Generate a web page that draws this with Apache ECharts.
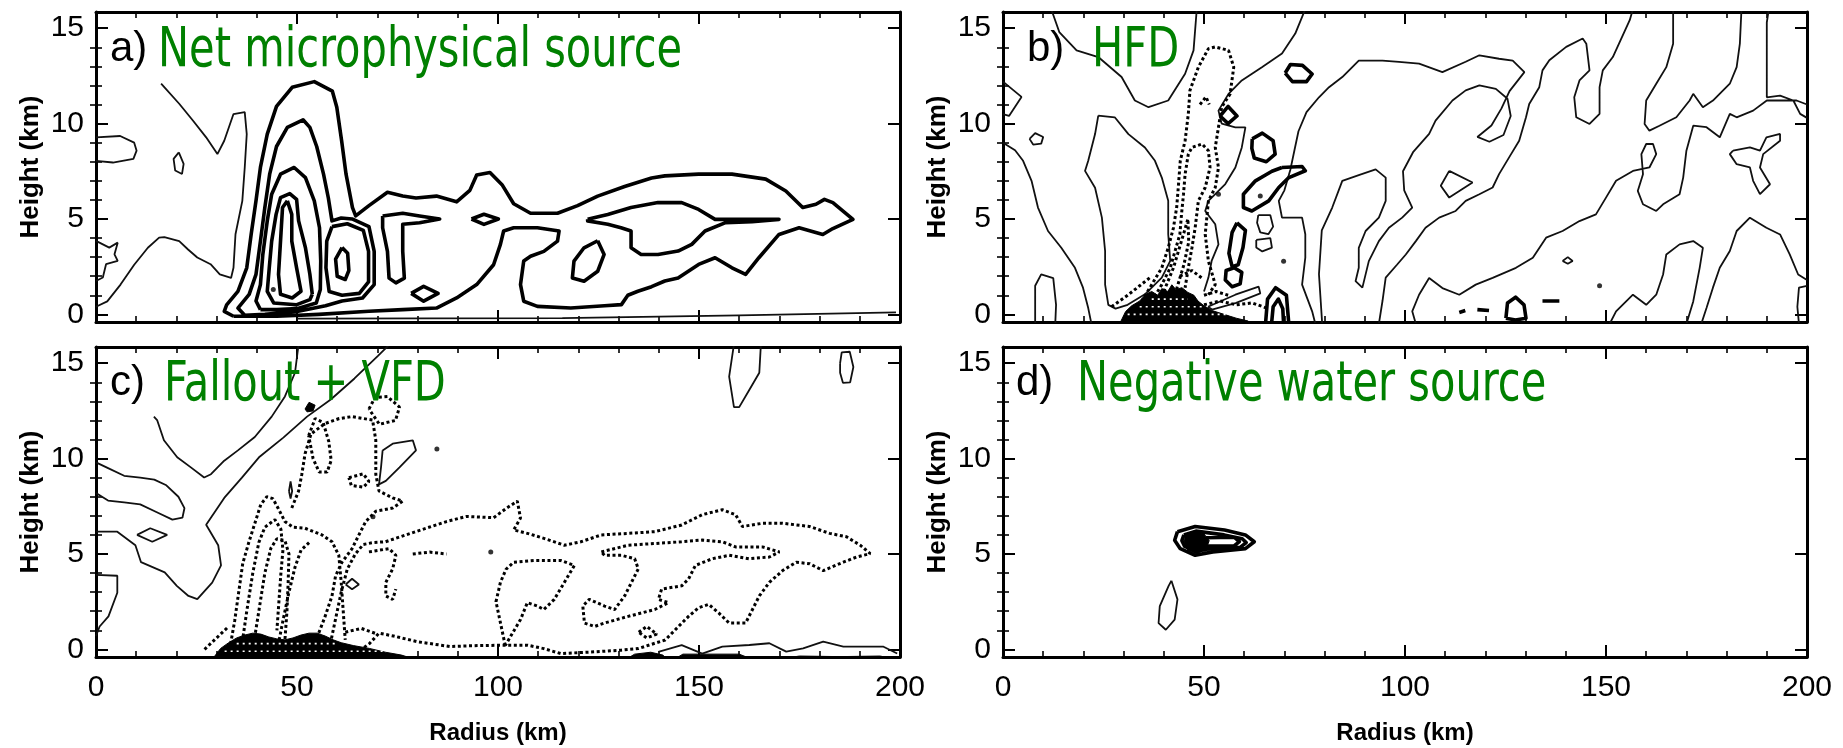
<!DOCTYPE html>
<html><head><meta charset="utf-8">
<script src="https://cdn.jsdelivr.net/npm/echarts@6/dist/echarts.min.js"></script>
<style>html,body{margin:0;padding:0;background:#fff}#c{width:1843px;height:748px}</style>
</head><body><div id="c"></div>
<script>
// ---------- axis values ----------
const xTicks = [0, 50, 100, 150, 200];
const yMajor = [0, 5, 10, 15];
const yMinor = [1,2,3,4,6,7,8,9,11,12,13,14];
const panelLetters = ['a)', 'b)', 'c)', 'd)'];
const panelTitles = ['Net microphysical source', 'HFD', 'Fallout + VFD', 'Negative water source'];

// ---------- panel a : Net microphysical source ----------
const aThick = [
 [[34.2,-0.1],[31.9,0.16],[32.5,0.5],[35.3,1.21],[37.5,2.44],[38.6,4.2],[39.8,5.95],[40.9,7.7],[42.6,9.45],[44.9,10.9],[48.8,11.9],[54.3,12.2],[58.8,11.7],[59.9,10.86],[61.1,9.1],[62.2,7.35],[63.8,5.6],[64.6,5.16],[67.9,5.7],[72.5,6.4],[76.3,6.2],[79.6,6.1],[84.7,6.2],[89.7,5.9],[93,6.5],[94.7,7.3],[98,7.44],[101,6.8],[103.9,5.8],[108.1,5.3],[114.8,5.3],[119.8,5.7],[124.8,6.2],[131.5,6.7],[138.2,7.15],[141.5,7.26],[149.9,7.35],[158.2,7.35],[166.6,7.09],[171.6,6.47],[175.8,5.6],[179.1,5.77],[181.2,6.03],[183.3,5.86],[188.3,4.98],[183.3,4.5],[180.8,4.19],[174.9,4.54],[169.9,4.19],[164.9,2.97],[161.6,2.1],[158.2,2.44],[154.0,2.97],[149.9,2.62],[144.8,1.91],[141.5,1.75],[138.2,1.45],[134.8,1.21],[132.3,1.0],[130.7,0.51],[126.5,0.45],[118.1,0.33],[109.8,0.42],[106.4,0.69],[105.6,1.56],[106.4,2.8],[108.1,3.05],[111.4,3.3],[114.8,3.84],[115.2,4.37],[109.8,4.54],[103.9,4.54],[101.4,4.37],[100.6,3.67],[98.9,2.6],[94.7,1.56],[89.7,0.86],[84.7,0.33],[76.3,0.25],[67.9,0.16],[55.4,0.0],[45,-0.1],[34.2,-0.1]],
 [[37.0,-0.05],[35.3,0.33],[38.1,1.05],[39.8,2.1],[40.9,3.84],[42.0,5.6],[43.2,7.35],[44.9,8.8],[47.6,9.8],[51.5,10.2],[53.2,9.8],[54.9,8.8],[56.6,7.35],[57.8,6.1],[58.7,4.9],[61,5.05],[63.7,5.0],[67.9,4.6],[69.2,3.3],[69.2,1.56],[66.3,0.86],[61.2,0.7],[57.1,0.45],[50,0.15],[42,0.0],[37.0,-0.05]],
 [[40.9,0.25],[39.8,0.7],[40.9,1.56],[41.5,3.14],[42.6,4.9],[43.7,6.3],[45.9,7.35],[49.3,7.7],[52.1,7.17],[54.3,5.95],[55.6,4.54],[55.9,2.8],[55.8,1.3],[54.8,0.6],[50,0.3],[45,0.25],[40.9,0.25]],
 [[58.7,4.6],[62.5,4.75],[66.5,4.4],[67.8,3.3],[67.8,1.7],[65.5,1.1],[61.2,1.0],[58,1.2],[57.2,2.44],[57.4,3.84],[58.7,4.6]],
 [[61.2,3.5],[62.6,3.2],[62.9,2.3],[62.0,1.83],[60.0,2.0],[59.6,2.9],[61.2,3.5]],
 [[53.8,1.05],[53.2,2.1],[52.1,3.49],[50.4,4.9],[49.9,6.03],[48.2,6.33],[45.9,6.12],[44.8,5.24],[43.7,3.84],[43.1,2.44],[42.6,1.21],[44.2,0.6],[49.8,0.5],[53.2,0.77],[53.8,1.05]],
 [[47.6,5.95],[46.4,5.6],[45.9,3.84],[45.4,2.1],[45.9,1.05],[48.8,0.86],[51.0,1.21],[49.9,2.44],[48.7,3.84],[48.7,5.24],[47.6,5.95]],
 [[71.3,5.16],[76.3,5.3],[80.5,5.16],[85.5,5.0],[80.5,4.8],[76.3,4.72],[76.3,3.3],[76.7,1.9],[74.6,1.65],[72.9,1.9],[72.5,3.3],[71.3,4.54],[71.3,5.16]],
 [[93.4,5.0],[96.5,5.25],[100.1,5.0],[96.5,4.72],[93.4,5.0]],
 [[78.4,1.1],[81.5,1.47],[85.1,1.1],[81.5,0.69],[78.4,1.1]],
 [[122.3,4.98],[127.3,5.24],[133.1,5.6],[139.8,5.86],[145.7,5.86],[149.9,5.5],[154.0,4.98],[163.2,4.98],[169.9,4.98],[163.2,4.86],[156.6,4.81],[151.5,4.37],[148.2,3.67],[144.8,3.32],[139.8,3.14],[135.6,3.14],[133.1,3.49],[133.1,4.37],[130.6,4.54],[127.3,4.72],[122.3,4.9],[122.3,4.98]],
 [[124.8,3.86],[126.4,3.14],[124.8,2.26],[121.4,1.74],[118.5,1.91],[118.9,2.79],[121.4,3.49],[124.8,3.86]]
];
const aThin = [
 [[16.2,12.1],[20.7,11.04],[24.1,10.16],[27.4,9.28],[30.2,8.4],[31.9,9.1],[34.2,10.5],[37.0,10.6],[37.5,9.45],[37.0,7.7],[36.4,5.95],[34.7,4.2],[34.2,2.44],[33.6,1.91],[30.8,2.1],[28.5,2.63],[25.2,2.98],[22.9,3.4],[20.7,3.84],[17,4.05],[15.7,4.02],[12.9,3.49],[9.5,2.6],[6.1,1.56],[2.8,0.68],[0,0.4]],
 [[0,9.28],[6,9.35],[9.5,9.0],[10.1,8.58],[9.3,8.15],[4.2,7.96],[0,8.05]],
 [[20.6,8.49],[21.8,7.89],[21.4,7.36],[19.7,7.54],[19.3,8.15],[20.6,8.49]],
 [[0,3.85],[3.3,3.5],[5.4,3.76],[4.6,3.15],[5.4,2.8],[2.5,2.63],[1.7,1.93],[0,1.75]],
 [[50,-0.22],[116,-0.2],[160,-0.05],[199,0.1]]
];
const aDots = [[44.1,1.3]];

// ---------- panel b : HFD ----------
const bThin = [
 [[12,16],[14,14.8],[18.3,13.84],[23.7,13.49],[29.5,12.44],[32.8,11.21],[36.2,10.86],[41.1,11.21],[45.3,12.61],[47.4,13.84],[48.2,16]],
 [[23.7,10.42],[27.8,10.33],[31.2,9.45],[35.3,8.75],[37.8,8.05],[39.5,7.17],[41.1,5.95],[41.1,4.2],[41.6,2.8],[39.5,1.93],[35.3,1.05],[31,0.5],[28,0.3],[26.2,0.5],[25.4,1.56],[25.4,3.32],[24.6,5.07],[22.9,6.64],[20.4,7.52],[21.2,8.05],[22.9,9.45],[23.7,10.42]],
 [[0,12.2],[4.6,11.4],[1.5,10.4],[0,10.5]],
 [[0,9.0],[3,8.6],[5,8.05],[7.1,7.0],[8.7,5.6],[11.2,4.37],[14.5,3.49],[17.9,2.44],[19.9,1.4],[21.2,0.33],[22,-0.5]],
 [[6.6,9.2],[8,9.5],[10,9.3],[9.5,8.95],[7.5,8.9],[6.6,9.2]],
 [[8,-0.5],[8,1.5],[9.5,2.1],[12.5,1.9],[13.2,0.5],[13,-0.5]],
 [[75.2,16],[72.7,14.72],[69.4,13.67],[64.4,12.96],[59.4,12.26],[56.1,11.56],[53.6,10.68],[54.4,10.0],[57.8,9.8],[60.3,9.8],[59.4,8.75],[57.8,7.7],[55.3,6.83],[51.1,5.95],[50.3,5.42],[52.8,4.72],[53.6,3.67],[51.9,2.8],[51.1,1.93],[50,1.2]],
 [[79.4,-0.5],[78.6,2.1],[79.3,4.4],[81.9,5.6],[84.4,7.0],[88.5,7.3],[92.7,7.6],[95.2,7.17],[95.2,5.95],[93.5,5.07],[90.2,4.37],[88.5,3.49],[88.5,2.44],[87.7,1.74],[89.4,1.4],[91,2.79],[93.5,3.84],[96,4.54],[99.3,5.07],[101.8,5.6],[99.8,6.5],[99.5,7.5],[102,8.5],[106,9.46],[107.6,10.16],[111.8,11.21],[115.1,11.74],[118.5,12.0],[122.6,11.82],[125.5,11.3],[126.3,10.4],[124.5,9.4],[121,9.05],[118,9.3],[121.5,9.9],[124,10.8],[126,11.7],[129.7,12.7],[126.8,13.3],[123.4,13.4],[118.5,13.58],[115.1,13.24],[109.3,12.7],[103.5,13.14],[98.5,13.24],[94.4,13.3],[88.5,13.3],[84.4,12.44],[81.1,11.91],[78.6,11.38],[75.5,10.6],[73.5,9.6],[72.5,8.6],[71.5,7.6],[70,6.5],[68.6,5.95],[69.4,5.07],[74.4,5.07],[75.2,4.2],[75.2,2.97],[74.4,1.56],[76.9,0.16],[77.7,-0.5]],
 [[156.7,16],[155.9,15.42],[151.7,13.49],[149.2,12.79],[148.4,11.91],[148.4,10.51],[145.9,9.98],[142.6,10.33],[142.1,11.38],[143.4,12.26],[145.9,12.79],[145.1,14.19],[144.2,14.46],[140.1,14.02],[135.9,13.32],[134.2,12.79],[133.4,11.91],[130.9,11.03],[130.1,10.33],[128.4,9.1],[125.9,8.23],[123.4,7.35],[121.8,6.65],[118.5,6.3],[115.1,5.95],[112.6,5.42],[108.5,5.07],[105.1,4.54],[102.7,3.84],[100.2,3.14],[98,2.6],[95.2,1.93],[94.4,0.7],[93.5,-0.5]],
 [[166.7,16],[166.7,14.19],[165.0,12.96],[162.5,12.09],[160.0,11.21],[159.6,9.98],[160.8,9.63],[163.3,9.89],[167.5,10.33],[170.8,11.21],[171.7,11.56],[174.1,10.86],[176.6,11.21],[180.8,12.09],[182.5,12.96],[183.3,14.19],[183.7,16]],
 [[190.5,16],[190,15.3],[190,11.38],[193.3,11.47],[196.6,11.21],[198.3,10.51],[200,10.3]],
 [[200,11.0],[197.4,11.21],[190.0,11.21],[186.6,10.68],[182.5,10.33],[180.8,10.51],[178.3,9.28],[175.0,9.81],[171.7,9.89],[170.0,8.58],[169.2,7.17],[168.3,6.3],[164.2,5.77],[162.5,5.42],[159.2,5.77],[157.9,6.47],[159.2,7.35],[158.8,8.4],[160.0,8.93],[161.7,8.93],[162.5,8.4],[160.8,7.7],[156.7,7.52],[152.5,7.0],[150.0,6.12],[147.5,5.24],[143.4,4.89],[139.2,4.37],[135.1,4.02],[131.8,2.97],[127.6,2.44],[121.8,1.91],[117.6,1.56],[113.5,1.03],[109.3,1.38],[106.0,1.91],[103.5,1.03],[101.8,0.16],[102.7,-0.5]],
 [[200,1.8],[197.8,2.09],[195.7,3.14],[193.3,4.19],[189.9,4.54],[185.8,5.07],[182.5,4.37],[180.8,3.32],[178.3,2.44],[176.6,1.4],[175.0,0.33],[173.7,-0.5]],
 [[170.0,-0.5],[171.7,0.68],[173.3,2.44],[174.1,3.49],[171.7,3.84],[168.3,3.67],[165.0,3.14],[164.2,2.09],[162.5,1.03],[160.0,0.5],[156.7,1.03],[152.5,0.16],[150.9,-0.5]],
 [[200,1.5],[198,1.4],[197.6,0.4],[198,-0.5]],
 [[181.6,8.58],[185.8,8.75],[188.3,8.58],[189.9,9.28],[193.3,9.46],[193.3,9.1],[189.1,8.4],[188.3,7.7],[190.8,6.82],[188.3,6.3],[186.6,7.0],[185.8,7.7],[182.5,7.87],[180.8,8.4],[181.6,8.58]],
 [[111,7.52],[116.8,6.91],[111,6.12],[108.9,6.74],[111,7.52]],
 [[139.2,2.8],[140.5,3.0],[141.7,2.8],[140.5,2.65],[139.2,2.8]],
 [[63.5,5.2],[66.5,5.2],[67.2,4.6],[66,4.2],[64,4.3],[63.2,4.8],[63.5,5.2]],
 [[63,3.9],[66.5,4.0],[66.9,3.5],[64.5,3.3],[63,3.5],[63,3.9]],
 [[51,0.4],[57.8,1.03],[63.6,1.45],[64,1.1],[58,0.6],[52,0.25],[51,0.4]]
];
const bThick = [
 [[70.2,12.65],[71.5,13.1],[74.5,13.05],[76.9,12.6],[75.5,12.2],[72,12.2],[70.2,12.65]],
 [[54.0,10.4],[56,10.9],[58.2,10.4],[56,10.0],[54.0,10.4]],
 [[62,9.2],[64.5,9.5],[67.2,9.1],[67.7,8.4],[65.5,8.0],[62.5,8.2],[61.9,8.7],[62,9.2]],
 [[69.4,7.7],[74.4,7.75],[75.2,7.53],[71.1,7.17],[68.6,6.65],[66.1,5.95],[61.9,5.42],[59.8,5.6],[59.8,6.3],[62.8,7.0],[66.9,7.5],[69.4,7.7]],
 [[58.2,4.8],[60.3,4.4],[59.7,3.5],[58.5,2.6],[57,2.5],[56.2,3.2],[57,4.3],[58.2,4.8]],
 [[57.5,2.44],[59.4,2.2],[59,1.6],[57,1.45],[55.3,1.8],[55.5,2.3],[57.5,2.44]],
 [[65.3,-0.5],[65.8,0.8],[67.8,1.4],[70.5,1.0],[71.1,-0.5]],
 [[66.8,-0.5],[67.2,0.4],[68.5,0.8],[69.6,0.3],[69.8,-0.5]],
 [[125.1,-0.2],[125.5,0.6],[127.5,0.9],[129.6,0.5],[130.1,-0.2],[127.5,-0.3],[125.1,-0.2]],
 [[134.2,0.7],[138.4,0.7]],
 [[113.5,0.1],[115,0.2]],
 [[118,0.25],[120.9,0.2]]
];
const bDotted = [
 [[32.0,-0.02],[34.5,0.68],[37.0,1.56],[39.5,2.44],[41.1,3.49],[42.4,4.54],[43.2,5.6],[43.6,6.65],[44.1,8.05],[45.3,9.1],[46.1,10.51],[46.5,11.74],[48.6,12.96],[51.1,13.93],[52.8,14.02],[56.1,13.84],[57.4,12.96],[56.5,11.56],[54.4,10.86],[53.6,9.81],[52.8,8.75],[53.6,7.7],[52.8,6.65],[51.1,5.95],[50.3,4.2],[51.1,2.79],[52.8,1.56],[51.1,1.03]],
 [[37.0,0.68],[39.5,1.56],[41.6,2.44],[42.8,3.32],[44.0,4.2],[44.4,5.24],[44.9,6.3],[45.3,7.35],[46.1,8.4],[47.0,8.75],[49.5,8.93],[51.1,8.58],[51.5,7.7],[50.3,6.65],[48.6,5.95],[47.8,4.54],[47.0,3.49],[46.1,2.44],[45.3,1.4]],
 [[40,1.2],[42.4,2.44],[44.9,4.2],[46,5],[46.2,3.8],[45,2.6],[43,1.2]],
 [[49,11.0],[50.5,11.4],[51.3,11.0]],
 [[50,0.5],[54,0.7],[58,0.5],[62,0.6],[66,0.3]],
 [[50,1.0],[53,1.2],[56,1.0]],
 [[27,0.4],[31,1.0],[34,1.5],[37,2.0]],
 [[44,2.0],[47,2.3],[49.5,1.9]]
];
const bBlobs = [
 [[29,-0.5],[30.5,0.15],[32,0.45],[34,0.7],[35.5,1.05],[37,1.2],[38.5,1.0],[39.5,1.35],[41,1.2],[42,1.55],[43,1.3],[44.5,1.4],[46,1.15],[47.5,1.0],[48.5,0.7],[50,0.45],[52,0.2],[55,0.0],[58,-0.2],[61,-0.35],[61,-0.5]]
];
const bTexture = [
 [[31,0.0],[58,0.0]], [[34,0.4],[50,0.4]], [[37,0.8],[46,0.8]]
];
const bDots = [[53.6,6.3],[64,6.2],[69.8,2.79],[148.4,1.5]];

// ---------- panel c : Fallout + VFD ----------
const cThin = [
 [[50.4,16],[49.5,14.5],[47.0,13.26],[43.7,12.2],[39.5,11.13],[35.3,10.43],[31.9,9.89],[28.6,9.18],[26.9,9.01],[23.6,9.54],[20.2,10.07],[16.9,10.96],[15.2,12.02],[14.4,12.2]],
 [[0,9.8],[3,9.5],[7,9.1],[11,9.0],[14.5,8.9],[17.5,8.6],[20.5,8.0],[22,7.4],[21.5,6.9],[19,6.8],[15,7.2],[11,7.6],[7,7.7],[3,7.8],[0,8.2]],
 [[73.1,16],[70.2,15.4],[64.3,14.2],[58.4,13.1],[52.5,12.2],[46.6,11.1],[40.7,10.1],[36.3,9.0],[31.9,7.94],[27.4,6.53],[30.4,5.46],[31.1,4.4],[28.9,3.5],[25.2,2.63],[23.0,2.8],[20.1,3.33],[17.1,4.04],[11.2,4.57],[9.8,5.46],[5.3,6.17],[0,6.17]],
 [[10.2,6.0],[13.5,6.35],[17.7,6.0],[14,5.64],[10.2,6.0]],
 [[0,3.9],[5.3,3.86],[5.3,2.97],[3.1,1.73],[0.9,1.2],[0,0.7]],
 [[158.7,16],[157.5,14.3],[158.7,12.7],[160.0,12.7],[162.5,13.6],[165.0,14.5],[165.4,16]],
 [[185.1,15],[185.5,15.57],[187.5,15.6],[188.4,14.8],[187.6,14.0],[185.8,13.97],[185.1,14.5],[185.1,15]],
 [[139.9,-0.13],[145.7,0.22],[150.8,-0.22],[155.8,0.14],[162.5,0.23],[167.5,0.32],[171.7,-0.12],[175.9,0.05],[180.9,0.41],[185.9,0.14],[190.9,0.14],[195.9,0.14],[199.3,-0.22]],
 [[71.3,10.43],[73.8,10.78],[78.8,10.96],[79.6,10.43],[75.5,9.54],[72.1,8.83],[70.4,8.65],[70.9,9.54],[71.3,10.43]],
 [[62.1,3.4],[63.7,3.7],[65.4,3.4],[63.7,3.15],[62.1,3.4]],
 [[48,8.3],[48.4,8.8],[48.8,8.3],[48.4,7.9],[48,8.3]]
];
const cDotted = [
 [[33,-0.3],[34.5,1.5],[35.5,3],[36.5,4.5],[38,5.6],[39.5,6.6],[41,7.6],[42.5,8.0],[44,7.9],[45.3,7.4],[47,6.7],[49,6.4],[52,6.35],[56.2,6.0],[58.7,5.64],[60.4,4.93],[61,3.5],[61.5,2],[62,0.5]],
 [[36,-0.2],[37.5,2],[39,4],[40.5,5.6],[42,6.4],[44.5,6.8],[46,6.3],[46.5,5.2],[46,4],[45.5,2.5],[45,1]],
 [[39,0],[40.5,2],[42,4],[43.5,5.3],[45,5.8],[47,5.7],[48,5],[47.8,3.5],[47.5,2],[47,0.5]],
 [[45.3,0.2],[46.5,1.5],[48,3],[49.5,4.3],[51,5.2],[53,5.6]],
 [[48.7,7.41],[50.4,8.3],[51.2,9.18],[52.0,10.25],[53.5,11.3],[57.0,11.84],[60.5,12.1],[63.7,12.2],[66.5,12.1],[68.8,12.02],[69.6,10.96],[69.6,9.18],[70.4,8.3],[73.8,7.94],[76.3,7.77],[73.8,7.41],[69.6,7.24],[67.1,6.7],[65.4,6.0],[63.7,5.28],[61.2,4.57],[59.6,3.86],[58.7,2.8],[57.0,1.73],[55.4,0.85],[54.5,0]],
 [[67.9,12.6],[69.4,13.2],[72.5,13.25],[75.5,12.7],[74.5,12.0],[70.5,11.8],[67.9,12.6]],
 [[52.9,11.2],[54.5,12.1],[56.5,11.9],[57.9,10.9],[58.5,9.9],[57.5,9.3],[55.5,9.3],[54,10],[52.9,11.2]],
 [[62.9,9.0],[66.5,9.2],[67.9,8.8],[66.5,8.5],[63.5,8.6],[62.9,9.0]],
 [[67.9,5.11],[72.9,5.28],[74.6,4.93],[73.8,4.22],[72.1,3.51],[72.1,2.8],[73.8,2.62],[74.6,3.16]],
 [[78.8,5.0],[83,5.1],[87.2,5.0]],
 [[58,0],[59.5,1.5],[61,3],[62.5,4.2],[64.5,5],[66.5,5.5],[69,5.6],[72,5.64],[77.1,6.0],[82.1,6.35],[87.2,6.7],[92.2,6.97],[98.9,6.9],[102.2,7.41],[104.8,7.77],[105.6,6.88],[103.9,6.26],[107.3,6.08],[111.4,5.82],[116.5,5.46],[120.6,5.64],[125.7,6.0],[132.4,6.08],[139.0,6.17],[145.7,6.52],[150.8,7.06],[155.8,7.32],[159.1,7.06],[160.8,6.44],[165.8,6.61],[170.8,6.61],[177.5,6.44],[182.5,6.08],[186.7,5.9],[190.1,5.46],[192.6,5.02],[189.2,4.84],[185.9,4.57],[180.9,4.13],[177.5,4.49],[174.2,4.57],[170.8,4.13],[167.5,3.51],[165.0,2.8],[163.3,2.09],[161.6,1.38],[157.5,1.38],[154.9,1.91],[152.4,2.36],[149.9,2.18],[147.4,1.73],[144.9,1.2],[141.6,0.49],[139.0,0.32],[134.9,0.04],[130.7,-0.04],[124.0,-0.13],[115.6,-0.22],[111.4,0.04],[107.3,0.22],[102.2,0.22],[95,0.2],[88,0.15],[80,0.4],[74,0.7],[70.4,0.85],[68,0.3],[66,0]],
 [[125.7,5.11],[132.4,5.46],[139.0,5.55],[145.7,5.64],[150.8,5.73],[155.8,5.64],[159.1,5.37],[165.8,5.37],[170.0,5.11],[167.5,4.84],[162.5,4.75],[157.5,4.93],[153.3,4.75],[149.1,4.4],[147.4,3.69],[145.7,3.33],[140.7,3.16],[139.9,2.62],[142.4,2.45],[139.0,2.09],[132.4,1.73],[126.5,1.38],[124.0,1.2],[121.5,1.38],[121.1,2.27],[122.7,2.62],[126.5,2.27],[129.0,2.09],[131.5,2.8],[133.2,3.51],[134.9,4.22],[134.0,4.75],[130.7,4.93],[126.5,4.93],[125.7,5.11]],
 [[101.8,0.2],[100.5,1.5],[99.5,2.5],[100.6,3.51],[102,4.2],[103.9,4.57],[108.9,4.66],[115.6,4.66],[119.0,4.4],[116.5,3.51],[114.0,2.62],[111.4,2.09],[109.8,2.27],[107.3,2.45],[105.6,1.56],[103.1,0.67],[101.8,0.2]],
 [[135,0.9],[137,1.2],[139.5,0.8],[137,0.6],[135,0.9]],
 [[27,0.0],[30,0.6],[33,1.2]],
 [[62,0.9],[66,1.1],[70,0.8]]
];
const cBlobs = [
 [[29,-0.5],[31,0.05],[33,0.35],[35,0.6],[37,0.75],[39,0.85],[41,0.8],[43,0.65],[45,0.55],[47,0.5],[49,0.6],[51,0.75],[53,0.85],[55,0.85],[57,0.7],[59,0.5],[61,0.35],[64,0.2],[68,0.05],[72,-0.15],[76,-0.3],[79,-0.5]],
 [[52,12.6],[53,12.95],[54.5,12.8],[54,12.5],[52.5,12.45]],
 [[132,-0.5],[134,-0.25],[138,-0.15],[141,-0.3],[142,-0.5]],
 [[144,-0.5],[146,-0.25],[160,-0.25],[163,-0.5]],
 [[170,-0.5],[175,-0.35],[185,-0.38],[195,-0.35],[199,-0.5]]
];
const cTexture = [
 [[32,-0.1],[75,-0.1]], [[35,0.3],[60,0.3]]
];
const cDots = [[84.8,10.5],[98.2,5.1],[68.9,6.95]];

// ---------- panel d : Negative water source ----------
const dThick = [
 [[43.4,6.17],[47.8,6.44],[55.1,6.26],[60.3,6.0],[62.5,5.64],[60.3,5.28],[52.2,5.11],[47.8,4.93],[44.1,5.28],[42.7,5.72],[43.4,6.17]],
 [[45,6.0],[48,6.2],[55,6.0],[59.5,5.8],[60.5,5.6],[59,5.35],[52,5.3],[48,5.15],[45.2,5.4],[44.5,5.7],[45,6.0]],
 [[50.5,5.85],[57.5,5.88],[58.8,5.65],[57.5,5.42],[50.5,5.42]]
];
const dThin = [
 [[41.9,3.6],[43.4,2.62],[42.7,1.56],[40.5,1.03],[38.7,1.38],[39.0,2.27],[41.2,3.33],[41.9,3.6]]
];
const dBlobs = [
 [[45.3,5.95],[47.5,6.2],[50,6.05],[51.3,5.7],[50.5,5.25],[48,5.0],[46,5.2],[45.1,5.6]]
];
const dWhite = [[[51.5,5.65],[57.3,5.66]]];

// ---------- build ----------
function join(lines){ const out=[]; lines.forEach((l,k)=>{ if(k) out.push(['-','-']); l.forEach(p=>out.push(p)); }); return out; }

const grids = [
 {left:96, top:12, width:804, height:310},
 {left:1003, top:12, width:804, height:310},
 {left:96, top:347, width:804, height:310},
 {left:1003, top:347, width:804, height:310}
];
const Y_MIN = -0.4, Y_MAX = 15.85;
const FONT = 'Liberation Sans';
const xAxes = [], yAxes = [], series = [];
grids.forEach((g,i)=>{
  const showX = i >= 2;
  ['bottom','top'].forEach((pos,k)=>{
    xAxes.push({type:'value', gridIndex:i, position:pos, min:xTicks[0], max:xTicks[xTicks.length-1], interval:50,
      axisLine:{show:true, onZero:false, lineStyle:{color:'#000', width:3}},
      axisTick:{show:true, inside:true, length:12, lineStyle:{color:'#000', width:2}},
      minorTick:{show:true, splitNumber:5, length:6, lineStyle:{color:'#000', width:1.6}},
      splitLine:{show:false}, minorSplitLine:{show:false},
      axisLabel:{show: showX && k===0, fontSize:30, fontFamily:FONT, color:'#000', margin:16},
      name: (showX && k===0) ? 'Radius (km)' : '', nameLocation:'middle', nameGap:64,
      nameTextStyle:{fontSize:24, fontWeight:'bold', fontFamily:FONT, color:'#000'}
    });
  });
  ['left','right'].forEach((pos,k)=>{
    yAxes.push({type:'value', gridIndex:i, position:pos, min:Y_MIN, max:Y_MAX,
      axisLine:{show:true, onZero:false, lineStyle:{color:'#000', width:3}},
      axisTick:{show:true, inside:true, length:12, customValues:yMajor, lineStyle:{color:'#000', width:2}},
      splitLine:{show:false},
      axisLabel:{show:k===0, customValues:yMajor, fontSize:30, fontFamily:FONT, color:'#000', margin:12},
      name: k===0 ? 'Height (km)' : '', nameLocation:'middle', nameGap:52, nameRotate:90,
      nameTextStyle:{fontSize:26, fontWeight:'bold', fontFamily:FONT, color:'#000'}
    });
  });
  ['left','right'].forEach((pos)=>{
    yAxes.push({type:'value', gridIndex:i, position:pos, min:Y_MIN, max:Y_MAX,
      axisLine:{show:false}, splitLine:{show:false}, axisLabel:{show:false},
      axisTick:{show:true, inside:true, length:6, customValues:yMinor, lineStyle:{color:'#000', width:1.6}}
    });
  });
});

function addPanel(i, thin, thick, dotted, blobs, texture, dots){
  const xi = 2*i, yi = 4*i;
  const base = {type:'line', xAxisIndex:xi, yAxisIndex:yi, showSymbol:false, symbol:'none', connectNulls:false, clip:true, silent:true, animation:false};
  if (thin && thin.length) series.push(Object.assign({}, base, {data:join(thin), lineStyle:{color:'#111', width:1.8}}));
  if (thick && thick.length) series.push(Object.assign({}, base, {data:join(thick), lineStyle:{color:'#000', width:3.6, join:'round'}}));
  if (dotted && dotted.length) series.push(Object.assign({}, base, {data:join(dotted), lineStyle:{color:'#000', width:3, type:[3,2.6], cap:'butt'}}));
  if (blobs && blobs.length) series.push({type:'custom', xAxisIndex:xi, yAxisIndex:yi, silent:true, animation:false, clip:true,
    data: blobs.map((b,k)=>[b[0][0], b[0][1], k]), encode:{x:0, y:1},
    renderItem:(params, api)=>{ const poly = blobs[params.dataIndex];
      return {type:'polygon', shape:{points: poly.map(p=>api.coord(p))}, style:{fill:'#000', stroke:'#000', lineWidth:1}}; }});
  if (texture && texture.length) series.push(Object.assign({}, base, {data:join(texture), z:3, lineStyle:{color:'#fff', width:1.6, type:[2,4]}}));
  if (dots && dots.length) series.push({type:'scatter', xAxisIndex:xi, yAxisIndex:yi, data:dots, symbolSize:5, itemStyle:{color:'#000'}, silent:true, animation:false});
}
addPanel(0, aThin, aThick, [], [], [], aDots);
addPanel(1, bThin, bThick, bDotted, bBlobs, bTexture, bDots);
addPanel(2, cThin, [], cDotted, cBlobs, cTexture, cDots);
addPanel(3, dThin, dThick, [], dBlobs, [], []);
series.push({type:'line', xAxisIndex:6, yAxisIndex:12, symbol:'none', z:3, data:join(dWhite), lineStyle:{color:'#fff', width:3}, silent:true, animation:false});

const letterPos = [[110,28],[1027,28],[110,362],[1016,362]];
const titlePos = [[158,24],[1092,24],[164,358],[1077,358]];
const graphic = [];
panelLetters.forEach((t,i)=>{
  graphic.push({type:'text', x:letterPos[i][0], y:letterPos[i][1], z:100,
    style:{text:t, fontSize:42, fontFamily:FONT, fill:'#000'}});
  graphic.push({type:'text', x:titlePos[i][0], y:titlePos[i][1], scaleX:0.84, z:100,
    style:{text:panelTitles[i], fontSize:55, fontFamily:'"DejaVu Sans Condensed", "DejaVu Sans", sans-serif', fill:'#008000'}});
});

const chart = echarts.init(document.getElementById('c'), null, {renderer:'canvas'});
chart.setOption({animation:false, backgroundColor:'#fff', grid:grids, xAxis:xAxes, yAxis:yAxes, series:series, graphic:graphic});
</script></body></html>
